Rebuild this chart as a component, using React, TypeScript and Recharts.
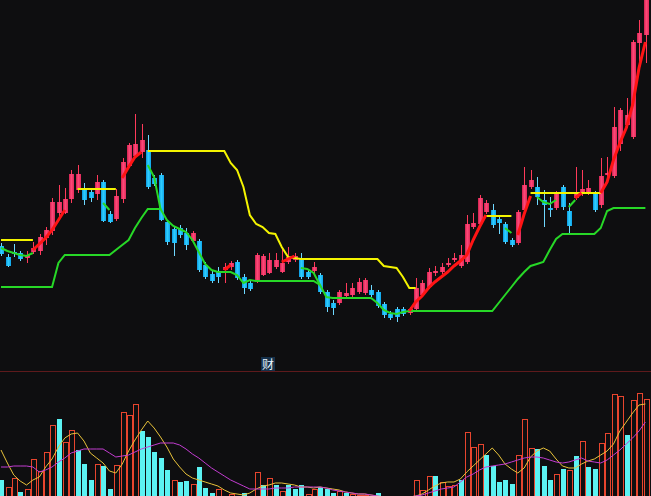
import { Bar, ComposedChart, Line, XAxis, YAxis } from "recharts";

const BG = "#0e0e10";

// price panel, one entry per session (left to right)
const opens = [
  9.4, 8.3, 8.8, 8.7, 8.2, 8.8, 8.9, 10.2, 10.9, 12.7,
  12.7, 14.1, 15.0, 15.1, 14.8, 14.6, 15.8, 12.6, 12.1, 14.1,
  17.4, 18.4, 18.8, 19.0, 16.2, 16.5, 11.8, 11.1, 11.2, 10.7,
  9.9, 9.9, 7.5, 6.6, 6.9, 7.0, 7.3, 7.8, 6.3, 5.7,
  5.8, 6.5, 6.7, 7.3, 6.8, 7.8, 8.0, 8.1, 6.8, 6.9,
  6.5, 4.8, 3.7, 3.7, 4.4, 4.5, 4.8, 4.7, 5.0, 4.8,
  3.6, 2.6, 3.1, 3.1, 2.7, 3.1, 4.5, 5.3, 6.7, 6.8,
  7.5, 8.0, 7.4, 7.8, 11.3, 11.6, 12.8, 13.0, 12.1, 11.6,
  10.0, 9.7, 13.0, 15.3, 15.3, 14.0, 13.2, 13.2, 15.3, 12.9,
  14.2, 14.6, 14.7, 14.7, 13.5, 16.5, 16.4, 19.6, 21.5, 20.3,
  29.7, 30.5,
];
const closes = [
  8.6, 7.4, 8.6, 8.1, 8.5, 9.2, 10.3, 11.0, 13.8, 13.8,
  14.1, 16.6, 16.6, 14.0, 14.2, 15.8, 11.9, 11.8, 14.4, 17.8,
  19.5, 19.6, 20.0, 15.3, 15.6, 12.0, 9.8, 9.7, 10.5, 9.5,
  10.7, 7.0, 6.3, 5.9, 6.3, 7.3, 7.7, 6.2, 5.2, 5.1,
  8.5, 8.4, 8.0, 8.0, 7.7, 8.3, 8.4, 6.3, 6.3, 7.3,
  4.8, 3.3, 3.2, 4.8, 4.7, 5.2, 5.8, 6.0, 4.5, 3.4,
  2.5, 2.2, 2.3, 2.6, 3.1, 5.2, 5.7, 6.8, 6.9, 7.3,
  7.7, 8.2, 8.5, 11.6, 11.7, 14.2, 13.7, 11.5, 11.7, 9.8,
  9.5, 12.8, 15.5, 16.0, 14.3, 13.5, 13.0, 14.7, 13.3, 11.4,
  14.7, 15.1, 15.2, 13.0, 16.4, 16.7, 21.3, 23.0, 22.5, 29.8,
  30.7, 35.0,
];
const highs = [
  9.7, 8.6, 9.6, 8.9, 8.9, 9.8, 10.6, 11.3, 14.2, 15.5,
  15.2, 17.0, 17.5, 15.7, 15.2, 16.5, 16.0, 12.9, 15.1, 18.2,
  19.7, 22.6, 21.6, 20.5, 16.5, 16.7, 12.0, 11.4, 11.5, 11.2,
  10.9, 10.1, 7.8, 7.0, 7.3, 7.7, 7.9, 8.0, 6.6, 5.9,
  8.7, 8.6, 8.7, 8.7, 9.2, 9.3, 8.7, 8.7, 7.0, 7.8,
  6.7, 5.0, 4.0, 5.0, 5.7, 5.7, 6.2, 6.2, 5.5, 5.0,
  3.8, 2.9, 3.3, 3.3, 3.3, 6.2, 6.0, 7.2, 7.4, 7.7,
  8.2, 8.7, 9.5, 12.5, 12.7, 14.5, 14.0, 13.6, 12.4, 11.8,
  10.2, 13.0, 17.3, 17.0, 16.3, 15.0, 14.3, 14.9, 15.5, 13.7,
  17.3, 17.0, 16.0, 14.9, 18.2, 18.3, 23.3, 23.2, 24.2, 30.0,
  32.0, 36.0,
];
const lows = [
  8.4, 7.3, 8.3, 7.9, 7.7, 8.6, 8.5, 9.5, 10.5, 12.2,
  12.6, 13.7, 14.7, 13.5, 13.8, 14.0, 11.8, 11.7, 11.9, 13.7,
  17.2, 18.2, 18.2, 15.1, 15.4, 11.9, 9.5, 8.4, 10.2, 9.0,
  9.7, 6.8, 6.1, 5.7, 5.7, 5.7, 7.0, 6.0, 4.6, 4.9,
  5.7, 6.4, 6.6, 7.1, 6.7, 7.6, 7.8, 6.1, 6.1, 6.5,
  4.6, 2.8, 2.5, 3.5, 4.2, 4.3, 4.6, 4.5, 4.3, 3.2,
  2.2, 2.0, 1.8, 2.4, 2.5, 2.9, 4.3, 5.1, 6.4, 6.6,
  7.3, 7.8, 7.2, 7.6, 11.1, 11.4, 12.6, 11.2, 10.6, 9.6,
  9.3, 9.5, 12.8, 15.1, 13.5, 11.3, 12.3, 13.0, 13.0, 10.7,
  14.0, 14.4, 14.5, 12.8, 13.2, 16.2, 16.2, 18.9, 21.2, 20.1,
  27.7, 27.7,
];

// green support line, full length
const support = [
  5.3, 5.3, 5.3, 5.3, 5.3, 5.3, 5.3, 5.3, 5.3, 7.7,
  8.5, 8.5, 8.5, 8.5, 8.5, 8.5, 8.5, 8.5, 9.0, 9.5,
  10.0, 11.2, 12.2, 13.1, 13.1, 13.1, 12.0, 11.4, 11.1, 10.8,
  10.0, 8.8, 7.6, 7.0, 6.8, 6.8, 6.8, 6.5, 5.7, 6.0,
  5.9, 5.9, 5.9, 5.9, 5.9, 5.9, 5.9, 5.9, 5.9, 5.9,
  5.5, 4.3, 4.2, 4.2, 4.2, 4.2, 4.2, 4.2, 4.2, 3.7,
  3.0, 2.7, 2.6, 2.8, 2.9, 2.9, 2.9, 2.9, 2.9, 2.9,
  2.9, 2.9, 2.9, 2.9, 2.9, 2.9, 2.9, 2.9, 3.7, 4.5,
  5.3, 6.1, 6.8, 7.4, 7.6, 7.8, 9.0, 10.1, 10.6, 10.6,
  10.6, 10.6, 10.6, 10.6, 11.2, 12.9, 13.2, 13.2, 13.2, 13.2,
  13.2, 13.2,
];

// broken lines: [first session, values]
const yellowSegs: [number, number[]][] = [
  [0, [10.0, 10.0, 10.0, 10.0, 10.0, 10.0]],
  [12, [15.1, 15.1, 15.1, 15.1, 15.1, 15.1, 15.1]],
  [23, [
    18.9, 18.9, 18.9, 18.9, 18.9, 18.9, 18.9, 18.9, 18.9, 18.9, 18.9, 18.9, 18.9,
    17.7, 17.0, 15.3, 12.5, 11.6, 11.3, 10.7, 10.6, 9.3, 8.3, 8.2,
    8.1, 8.1, 8.1, 8.1, 8.1, 8.1, 8.1, 8.1, 8.1, 8.1, 8.1, 8.1, 8.1,
    7.4, 7.3, 7.2, 6.3, 5.2, 5.2,
  ]],
  [76, [12.4, 12.4, 12.4, 12.4, 12.4]],
  [83, [14.7, 14.7, 14.7, 14.7, 14.7, 14.7, 14.7, 14.7, 14.7, 14.7, 14.7, 14.7]],
];
const trailSegs: [number, number[]][] = [
  [0, [9.2, 8.9, 8.7, 8.5, 8.4, 8.7]],
  [16, [13.7, 13.0]],
  [23, [17.5, 16.3, 13.1]],
  [47, [7.2, 7.1, 6.7, 5.5]],
  [79, [11.2, 10.7]],
  [84, [14.3, 13.8, 13.6, 14.0]],
  [89, [13.3, 14.0]],
];
const redSegs: [number, number[]][] = [
  [5, [9.0, 9.6, 10.2, 11.0, 12.0, 13.0]],
  [19, [16.2, 17.3, 18.3, 18.8]],
  [35, [7.0, 7.5]],
  [44, [7.8, 8.1, 8.4]],
  [64, [2.9, 3.8, 4.4, 5.2, 5.8, 6.3, 6.8, 7.4, 7.9, 8.5, 10.0, 11.3, 12.5]],
  [81, [10.5, 12.6, 14.4]],
  [90, [14.2, 14.7]],
  [94, [14.7, 15.8, 18.0, 19.7, 21.2, 23.5, 27.2, 29.8]],
];

// volume panel
const volumes = [
  20, 13, 22, 8, 11, 41, 29, 48, 75, 81,
  58, 70, 50, 36, 20, 36, 34, 11, 35, 88,
  85, 96, 69, 63, 48, 42, 30, 20, 18, 19,
  16, 33, 12, 7, 11, 3, 6, 3, 7, 4,
  28, 15, 22, 15, 9, 15, 11, 15, 6, 11,
  13, 11, 7, 9, 7, 6, 5, 5, 4, 7,
  3, 3, 4, 3, 3, 20, 10, 24, 24, 18,
  14, 15, 20, 68, 53, 56, 45, 34, 18, 20,
  16, 45, 81, 52, 51, 34, 20, 26, 31, 30,
  44, 59, 33, 31, 57, 67, 106, 104, 65, 100,
  107, 101,
];
const volUp = [
  0, 1, 1, 0, 1, 1, 1, 1, 1, 0,
  1, 1, 0, 0, 0, 1, 0, 0, 1, 1,
  1, 1, 0, 0, 0, 0, 0, 1, 0, 0,
  1, 0, 0, 0, 1, 1, 1, 0, 0, 0,
  1, 0, 1, 0, 1, 0, 0, 0, 1, 1,
  0, 0, 0, 1, 0, 1, 1, 1, 0, 0,
  0, 0, 0, 0, 1, 1, 1, 1, 0, 1,
  1, 1, 0, 1, 1, 1, 0, 0, 0, 0,
  0, 1, 1, 1, 0, 0, 0, 1, 0, 1,
  0, 1, 0, 0, 1, 1, 1, 1, 0, 1,
  1, 1,
];
const volMa5 = [
  50, 37, 25, 19, 15, 20, 23, 33, 41, 53,
  62, 66, 67, 59, 47, 42, 37, 29, 27, 36,
  49, 60, 70, 79, 72, 63, 53, 41, 33, 26,
  22, 20, 18, 16, 14, 10, 7, 6, 5, 7,
  11, 14, 15, 17, 17, 16, 15, 13, 13, 12,
  13, 12, 11, 10, 8, 7, 6, 6, 5, 4,
  3, 3, 3, 3, 3, 4, 6, 10, 14, 17,
  18, 18, 21, 28, 34, 40, 46, 52, 45, 36,
  31, 27, 32, 43, 49, 52, 49, 41, 34, 32,
  32, 36, 39, 41, 45, 49, 56, 69, 78, 87,
  95, 96,
];
const volMa10 = [
  33, 33, 34, 34, 34, 33, 28, 30, 33, 38,
  42, 47, 49, 51, 51, 51, 51, 47, 43, 44,
  45, 48, 51, 53, 55, 57, 57, 57, 55, 51,
  46, 42, 37, 32, 28, 24, 20, 17, 14, 11,
  11, 11, 11, 12, 12, 12, 13, 13, 13, 13,
  13, 12, 10, 9, 8, 7, 6, 6, 5, 4,
  3, 3, 3, 2, 3, 4, 5, 7, 9, 11,
  12, 13, 18, 23, 26, 30, 33, 34, 35, 36,
  38, 40, 42, 43, 43, 42, 40, 38, 37, 38,
  40, 42, 39, 38, 37, 40, 45, 50, 56, 62,
  69, 78,
];

const fillSegs = (rows: any[], key: string, segs: [number, number[]][]) => {
  segs.forEach(([start, vals]) => {
    vals.forEach((v, k) => {
      rows[start + k][key] = v;
    });
  });
};

const priceRows: any[] = opens.map((o, i) => ({
  i,
  o,
  c: closes[i],
  h: highs[i],
  l: lows[i],
  range: [lows[i], highs[i]],
  support: support[i],
  yellow: null,
  trail: null,
  red: null,
}));
fillSegs(priceRows, "yellow", yellowSegs);
fillSegs(priceRows, "trail", trailSegs);
fillSegs(priceRows, "red", redSegs);

const volRows = volumes.map((v, i) => ({ i, vol: v, up: volUp[i], ma5: volMa5[i], ma10: volMa10[i] }));

const X_DOMAIN = [-0.157, 101.88];

function Candle(props: any) {
  const { x, y, width, height, payload } = props;
  if (x == null || y == null) return null;
  const top = Math.min(y, y + height);
  const bot = Math.max(y, y + height);
  const k = (bot - top) / (payload.h - payload.l);
  const yo = top + (payload.h - payload.o) * k;
  const yc = top + (payload.h - payload.c) * k;
  const up = payload.c >= payload.o;
  const cx = Math.round(x + width / 2);
  const bodyTop = Math.min(yo, yc);
  const bodyH = Math.max(1.5, Math.abs(yc - yo));
  return (
    <g>
      <line x1={cx + 0.5} x2={cx + 0.5} y1={top} y2={bot} stroke={up ? "#ff3a5a" : "#6fd8ff"} strokeWidth={1} />
      <rect x={cx - 2} y={bodyTop} width={5} height={bodyH} fill={up ? "url(#candleUp)" : "url(#candleDown)"} />
    </g>
  );
}

function VolBar(props: any) {
  const { x, y, width, height, payload } = props;
  if (x == null || y == null) return null;
  const cx = Math.round(x + width / 2);
  const top = Math.min(y, y + height);
  const h = Math.abs(height);
  if (payload.up) {
    return <rect x={cx - 1.5} y={Math.round(top) + 0.5} width={5} height={h + 4} fill={BG} stroke="#e8452e" strokeWidth={1} />;
  }
  return <rect x={cx - 2} y={top} width={5} height={h + 4} fill="#5cf2f2" />;
}

export default function App() {
  return (
    <div
      style={{
        position: "fixed",
        left: 0,
        top: 0,
        width: 651,
        height: 496,
        overflow: "hidden",
        background: BG,
      }}
    >
      <div style={{ position: "absolute", left: 0, top: 0 }}>
        <ComposedChart width={651} height={340} data={priceRows} margin={{ top: 0, right: 0, bottom: 0, left: 0 }}>
          <defs>
            <linearGradient id="candleUp" x1="0" y1="0" x2="1" y2="0">
              <stop offset="0%" stopColor="#d0204e" />
              <stop offset="45%" stopColor="#ff4a7a" />
              <stop offset="100%" stopColor="#e02a5a" />
            </linearGradient>
            <linearGradient id="candleDown" x1="0" y1="0" x2="1" y2="0">
              <stop offset="0%" stopColor="#0a96e0" />
              <stop offset="45%" stopColor="#30d0ff" />
              <stop offset="100%" stopColor="#0fa4ec" />
            </linearGradient>
          </defs>
          <XAxis dataKey="i" type="number" domain={X_DOMAIN} hide allowDataOverflow />
          <YAxis domain={[0, 34]} hide allowDataOverflow />
          <Line type="linear" dataKey="support" stroke="#27d827" strokeWidth={2} dot={false} activeDot={false} isAnimationActive={false} connectNulls={false} />
          <Line type="linear" dataKey="trail" stroke="#27d827" strokeWidth={2} dot={false} activeDot={false} isAnimationActive={false} connectNulls={false} />
          <Line type="linear" dataKey="yellow" stroke="#f4f400" strokeWidth={2} dot={false} activeDot={false} isAnimationActive={false} connectNulls={false} />
          <Bar dataKey="range" barSize={5} shape={<Candle />} isAnimationActive={false} />
          <Line type="linear" dataKey="red" stroke="#ff1414" strokeWidth={3} dot={false} activeDot={false} isAnimationActive={false} connectNulls={false} />
        </ComposedChart>
      </div>
      <div style={{ position: "absolute", left: 0, top: 371, width: 651, height: 1, background: "#5e1a1c" }} />
      <div
        style={{
          position: "absolute",
          left: 261,
          top: 357,
          width: 14,
          height: 14,
          background: "#15304a",
          color: "#eaf4ff",
          fontFamily: '"Noto Sans CJK SC", sans-serif',
          fontSize: 12,
          lineHeight: "14px",
          textAlign: "center",
        }}
      >
        财
      </div>
      <div style={{ position: "absolute", left: 0, top: 372 }}>
        <ComposedChart width={651} height={128} data={volRows} margin={{ top: 0, right: 0, bottom: 0, left: 0 }}>
          <XAxis dataKey="i" type="number" domain={X_DOMAIN} hide allowDataOverflow />
          <YAxis domain={[0, 128]} hide allowDataOverflow />
          <Bar dataKey="vol" barSize={5} shape={<VolBar />} isAnimationActive={false} />
          <Line type="linear" dataKey="ma5" stroke="#e8c23a" strokeWidth={1} dot={false} activeDot={false} isAnimationActive={false} />
          <Line type="linear" dataKey="ma10" stroke="#c23cd0" strokeWidth={1} dot={false} activeDot={false} isAnimationActive={false} />
        </ComposedChart>
      </div>
    </div>
  );
}
